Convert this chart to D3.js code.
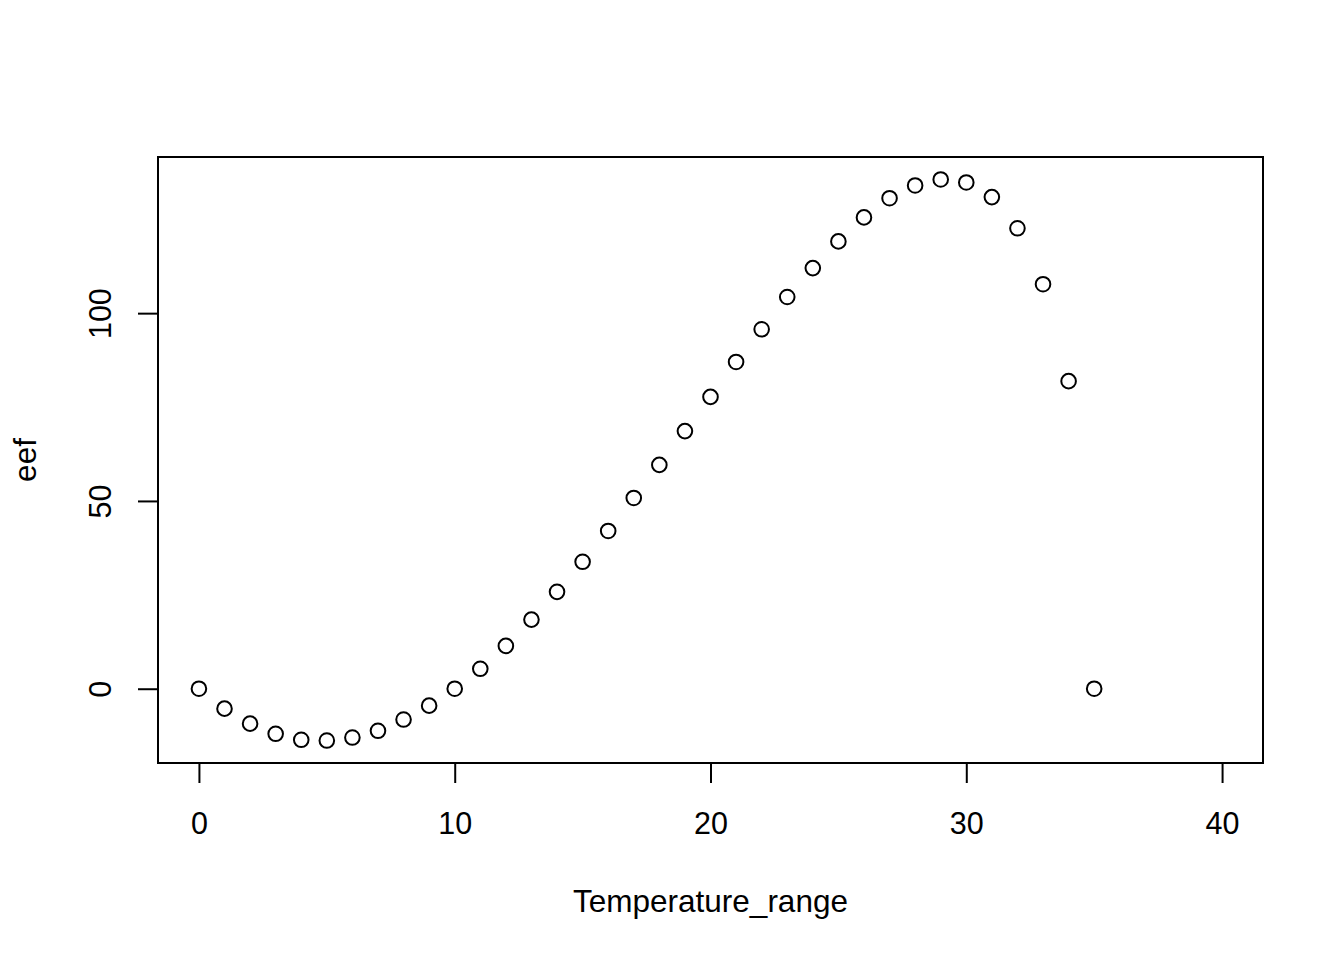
<!DOCTYPE html>
<html>
<head>
<meta charset="utf-8">
<script src="https://cdn.jsdelivr.net/npm/d3@7"></script>
<style>
  body { margin: 0; background: #fff; }
  text { font-family: "Liberation Sans", Arial, Helvetica, sans-serif; fill: #000; }
</style>
</head>
<body>
<div id="chart"></div>
<script>
// values
var temperature = [0,1,2,3,4,5,6,7,8,9,10,11,12,13,14,15,16,17,18,19,20,21,22,23,24,25,26,27,28,29,30,31,32,33,34,35];
var eef = [0,-5.3,-9.3,-12.0,-13.6,-13.8,-13.0,-11.2,-8.2,-4.5,0,5.3,11.4,18.4,25.8,33.8,42.0,50.8,59.6,68.6,
           77.7,87.0,95.7,104.3,112.0,119.1,125.5,130.6,134.0,135.6,134.8,130.9,122.6,107.7,81.9,0];
var xlim = [0, 40];
var xTicks = [0, 10, 20, 30, 40];
var yTicks = [0, 50, 100];

var width = 1344, height = 960;
var box = {left: 158, right: 1263, top: 157, bottom: 763};

var svg = d3.select("#chart")
  .append("svg")
  .attr("width", width)
  .attr("height", height);

// R style: pad the range 4% on each side
function pad(ext) {
  var d = (ext[1] - ext[0]) * 0.04;
  return [ext[0] - d, ext[1] + d];
}

var x = d3.scaleLinear().domain(pad(xlim)).range([box.left, box.right]);
var y = d3.scaleLinear().domain(pad(d3.extent(eef))).range([box.bottom, box.top]);

// frame
svg.append("rect")
  .attr("x", box.left)
  .attr("y", box.top)
  .attr("width", box.right - box.left)
  .attr("height", box.bottom - box.top)
  .attr("fill", "none")
  .attr("stroke", "#000")
  .attr("stroke-width", 2);

// x axis
var xAxis = svg.append("g")
  .attr("transform", "translate(0," + box.bottom + ")")
  .call(d3.axisBottom(x).tickValues(xTicks).tickSize(20).tickPadding(29).tickSizeOuter(0));
xAxis.select(".domain")
  .attr("d", "M" + x(xTicks[0]) + ",0H" + x(xTicks[xTicks.length - 1]));

// y axis
var yAxis = svg.append("g")
  .attr("transform", "translate(" + box.left + ",0)")
  .call(d3.axisLeft(y).tickValues(yTicks).tickSize(20).tickSizeOuter(0));
yAxis.select(".domain")
  .attr("d", "M0," + y(yTicks[0]) + "V" + y(yTicks[yTicks.length - 1]));
yAxis.selectAll(".tick text")
  .attr("x", 0)
  .attr("dy", null)
  .attr("text-anchor", "middle")
  .attr("transform", "translate(-58,0) rotate(-90)")
  .attr("dominant-baseline", "central");

svg.selectAll(".domain, .tick line").attr("stroke", "#000").attr("stroke-width", 2);
svg.selectAll(".tick text").attr("font-size", 30.5).attr("font-family", null);

// points
svg.selectAll(".pt")
  .data(eef)
  .enter().append("circle")
  .attr("class", "pt")
  .attr("cx", function(d, i) { return x(temperature[i]); })
  .attr("cy", function(d) { return y(d); })
  .attr("r", 7.3)
  .attr("fill", "none")
  .attr("stroke", "#000")
  .attr("stroke-width", 2);

// axis titles
svg.append("text")
  .attr("x", (box.left + box.right) / 2)
  .attr("y", 901)
  .attr("text-anchor", "middle")
  .attr("dominant-baseline", "central")
  .attr("font-size", 31.5)
  .text("Temperature_range");

svg.append("text")
  .attr("transform", "translate(25," + (box.top + box.bottom) / 2 + ") rotate(-90)")
  .attr("text-anchor", "middle")
  .attr("dominant-baseline", "central")
  .attr("font-size", 31.5)
  .text("eef");
</script>
</body>
</html>
